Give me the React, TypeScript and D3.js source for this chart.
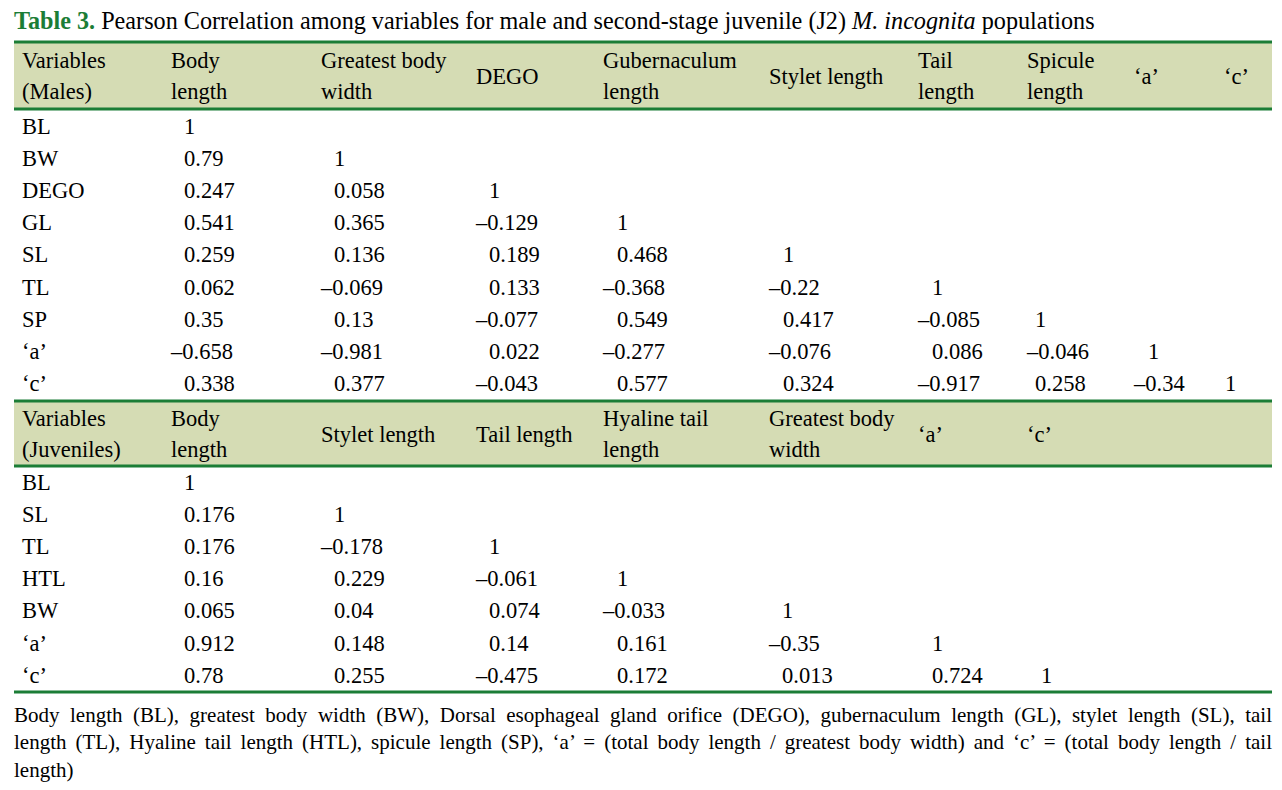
import React, { useLayoutEffect, useRef, useState } from "react";
import * as d3 from "d3";

const maleHeaders: string[][] = [
  ["Variables", "(Males)"],
  ["Body", "length"],
  ["Greatest body", "width"],
  ["DEGO"],
  ["Gubernaculum", "length"],
  ["Stylet length"],
  ["Tail", "length"],
  ["Spicule", "length"],
  ["‘a’"],
  ["‘c’"],
];
const maleVars = ["BL", "BW", "DEGO", "GL", "SL", "TL", "SP", "‘a’", "‘c’"];
const maleValues: number[][] = [
  [1],
  [0.79, 1],
  [0.247, 0.058, 1],
  [0.541, 0.365, -0.129, 1],
  [0.259, 0.136, 0.189, 0.468, 1],
  [0.062, -0.069, 0.133, -0.368, -0.22, 1],
  [0.35, 0.13, -0.077, 0.549, 0.417, -0.085, 1],
  [-0.658, -0.981, 0.022, -0.277, -0.076, 0.086, -0.046, 1],
  [0.338, 0.377, -0.043, 0.577, 0.324, -0.917, 0.258, -0.34, 1],
];

const juvHeaders: string[][] = [
  ["Variables", "(Juveniles)"],
  ["Body", "length"],
  ["Stylet length"],
  ["Tail length"],
  ["Hyaline tail", "length"],
  ["Greatest body", "width"],
  ["‘a’"],
  ["‘c’"],
];
const juvVars = ["BL", "SL", "TL", "HTL", "BW", "‘a’", "‘c’"];
const juvValues: number[][] = [
  [1],
  [0.176, 1],
  [0.176, -0.178, 1],
  [0.16, 0.229, -0.061, 1],
  [0.065, 0.04, 0.074, -0.033, 1],
  [0.912, 0.148, 0.14, 0.161, -0.35, 1],
  [0.78, 0.255, -0.475, 0.172, 0.013, 0.724, 1],
];

const titleBold = "Table 3.";
const titleRest = " Pearson Correlation among variables for male and second-stage juvenile (J2) ";
const titleItalic = "M. incognita";
const titleEnd = " populations";

const footerLines = [
  "Body length (BL), greatest body width (BW), Dorsal esophageal gland orifice (DEGO), gubernaculum length (GL), stylet length (SL), tail",
  "length (TL), Hyaline tail length (HTL), spicule length (SP), ‘a’ = (total body length / greatest body width) and ‘c’ = (total body length / tail",
  "length)",
];

// layout
const W = 1282;
const H = 790;
const LEFT = 14;
const RIGHT = 1272;
const GREEN = "#1b7d36";
const BAND = "#d5dcb4";
const FONT = "'Liberation Serif', 'Times New Roman', serif";
const FS = 22.5;
const maleColX = [22, 171, 321, 476, 603, 769, 918, 1027, 1134, 1224];
const malePosOff = [0, 13, 13, 13, 14, 14, 14, 8, 14, 1];
const juvColX = [22, 171, 321, 476, 603, 769, 918, 1027];
const juvPosOff = [0, 13, 13, 13, 14, 13, 14, 14];

function fmt(v: number): string {
  const s = String(Math.abs(v));
  return v < 0 ? "\u2013" + s : s;
}

function Block({
  headers,
  vars,
  values,
  colX,
  posOff,
  top,
  bottom,
  firstRow,
}: {
  headers: string[][];
  vars: string[];
  values: number[][];
  colX: number[];
  posOff: number[];
  top: number;
  bottom: number;
  firstRow: number;
}) {
  const rowY = d3.scaleLinear().domain([0, 1]).range([firstRow, firstRow + 32.1]);
  const mid = (top + bottom) / 2;
  const lineY = (i: number, n: number) => (n === 1 ? mid + 8 : mid - 8 + i * 31);
  return (
    <g>
      <rect x={LEFT} y={top} width={RIGHT - LEFT} height={bottom - top} fill={BAND} />
      <line x1={LEFT} x2={RIGHT} y1={top} y2={top} stroke={GREEN} strokeWidth={3} />
      <line x1={LEFT} x2={RIGHT} y1={bottom} y2={bottom} stroke={GREEN} strokeWidth={3} />
      {headers.map((h, ci) =>
        h.map((t, li) => (
          <text key={`h${ci}-${li}`} x={colX[ci]} y={lineY(li, h.length)} fontSize={FS}>
            {t}
          </text>
        ))
      )}
      {vars.map((v, ri) => (
        <g key={`r${ri}`}>
          <text x={colX[0]} y={rowY(ri)} fontSize={FS}>
            {v}
          </text>
          {values[ri].map((val, ci) => (
            <text
              key={ci}
              x={colX[ci + 1] + (val < 0 ? 0 : posOff[ci + 1])}
              y={rowY(ri)}
              fontSize={FS}
            >
              {fmt(val)}
            </text>
          ))}
        </g>
      ))}
    </g>
  );
}

function Footer() {
  const refs = useRef<(SVGTextElement | null)[]>([]);
  const [spacing, setSpacing] = useState<number[]>(footerLines.map(() => 0));
  useLayoutEffect(() => {
    const next = footerLines.map((t, i) => {
      if (i === footerLines.length - 1) return 0;
      const el = refs.current[i];
      if (!el) return 0;
      const natural = el.getComputedTextLength();
      const spaces = (t.match(/ /g) || []).length;
      return spaces > 0 ? (RIGHT - LEFT - natural) / spaces : 0;
    });
    setSpacing(next);
  }, []);
  return (
    <g>
      {footerLines.map((t, i) => (
        <text
          key={i}
          ref={(el) => {
            refs.current[i] = el;
          }}
          x={LEFT}
          y={722 + i * 27.3}
          fontSize={21}
          style={{ wordSpacing: `${spacing[i]}px`, whiteSpace: "pre" }}
        >
          {t}
        </text>
      ))}
    </g>
  );
}

export default function App() {
  return (
    <svg width={W} height={H} style={{ position: "absolute", left: 0, top: 0 }} fontFamily={FONT}>
      <rect width={W} height={H} fill="#fff" />
      <text x={14} y={29} fontSize={24.2} fill="#000">
        <tspan fill={GREEN} fontWeight="bold">
          {titleBold}
        </tspan>
        <tspan>{titleRest}</tspan>
        <tspan fontStyle="italic">{titleItalic}</tspan>
        <tspan>{titleEnd}</tspan>
      </text>
      <Block
        headers={maleHeaders}
        vars={maleVars}
        values={maleValues}
        colX={maleColX}
        posOff={malePosOff}
        top={42}
        bottom={109}
        firstRow={134}
      />
      <Block
        headers={juvHeaders}
        vars={juvVars}
        values={juvValues}
        colX={juvColX}
        posOff={juvPosOff}
        top={401}
        bottom={466}
        firstRow={490}
      />
      <line x1={LEFT} x2={RIGHT} y1={692} y2={692} stroke={GREEN} strokeWidth={3} />
      <Footer />
    </svg>
  );
}
